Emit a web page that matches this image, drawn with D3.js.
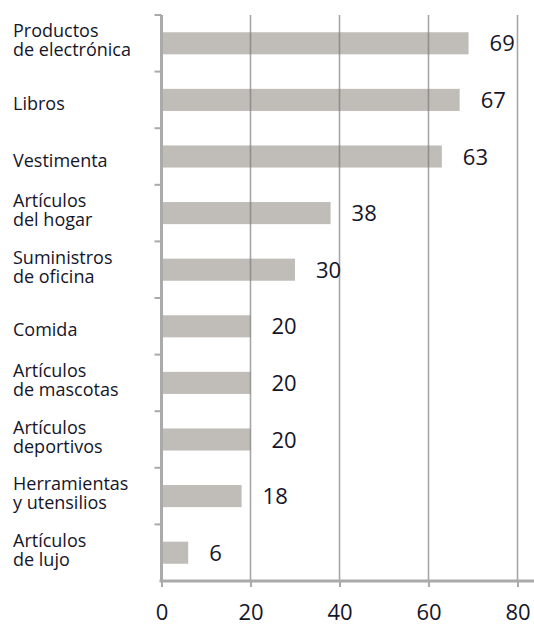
<!DOCTYPE html>
<html>
<head>
<meta charset="utf-8">
<script src="https://cdn.jsdelivr.net/npm/d3@7"></script>
<style>
  body { margin: 0; background: #fff; }
  svg text { font-family: "Open Sans", sans-serif; fill: #15152a; }
</style>
</head>
<body>
<svg width="534" height="635"></svg>
<script>
// categories, each split into its text lines
var categories = [
  ["Productos", "de electrónica"],
  ["Libros"],
  ["Vestimenta"],
  ["Artículos", "del hogar"],
  ["Suministros", "de oficina"],
  ["Comida"],
  ["Artículos", "de mascotas"],
  ["Artículos", "deportivos"],
  ["Herramientas", "y utensilios"],
  ["Artículos", "de lujo"]
];
var values = [69, 67, 63, 38, 30, 20, 20, 20, 18, 6];
var xTicks = [0, 20, 40, 60, 80];

var margin = { top: 15, left: 161.5, right: 16.5, bottom: 54 },
  width = 534 - margin.left - margin.right,
  height = 635 - margin.top - margin.bottom;

var svg = d3.select("svg");
var g = svg.append("g")
  .attr("transform", "translate(" + margin.left + "," + margin.top + ")");

var keys = categories.map(function(d) { return d.join(" "); });

var x = d3.scaleLinear().domain([0, 80]).range([0, width]);
var y = d3.scaleBand().domain(keys).range([0, height])
  .paddingInner(0.61).paddingOuter(0.305);

// bars
g.selectAll(".bar")
  .data(values)
  .enter().append("rect")
  .attr("class", "bar")
  .attr("x", 0)
  .attr("y", function(d, i) { return y(keys[i]); })
  .attr("width", function(d) { return x(d); })
  .attr("height", y.bandwidth())
  .style("fill", "#c0bcb7");

// vertical grid lines, drawn over the bars
g.selectAll(".grid")
  .data(xTicks.slice(1))
  .enter().append("line")
  .attr("class", "grid")
  .attr("x1", function(d) { return x(d); })
  .attr("x2", function(d) { return x(d); })
  .attr("y1", 0)
  .attr("y2", height)
  .style("stroke", "#777")
  .style("stroke-opacity", 0.65)
  .style("stroke-width", 1.6);

// left axis with ticks between categories
var step = y.step();
g.append("line")
  .attr("x1", 0).attr("x2", 0)
  .attr("y1", 0).attr("y2", height)
  .style("stroke", "#aaa").style("stroke-width", 3);
g.selectAll(".ytick")
  .data(d3.range(keys.length))
  .enter().append("line")
  .attr("class", "ytick")
  .attr("x1", -7).attr("x2", 0)
  .attr("y1", function(i) { return i * step; })
  .attr("y2", function(i) { return i * step; })
  .style("stroke", "#aaa").style("stroke-width", 2);

// bottom axis
var xAxis = d3.axisBottom(x).tickValues(xTicks).tickSize(6).tickPadding(17);
var ax = g.append("g")
  .attr("transform", "translate(0," + height + ")")
  .call(xAxis);
ax.select(".domain").remove();
ax.selectAll(".tick line").style("stroke", "#aaa").style("stroke-width", 2);
ax.selectAll(".tick text")
  .style("font-size", "22px")
  .style("font-family", "'Open Sans', sans-serif")
  .attr("fill", "#15152a");
g.append("line")
  .attr("x1", -2).attr("x2", 534 - margin.left)
  .attr("y1", height).attr("y2", height)
  .style("stroke", "#aaa").style("stroke-width", 3);

// value labels
g.selectAll(".value")
  .data(values)
  .enter().append("text")
  .attr("class", "value")
  .attr("x", function(d) { return x(d) + 21; })
  .attr("y", function(d, i) { return y(keys[i]) + y.bandwidth() / 2 + 8; })
  .style("font-size", "22px")
  .text(function(d) { return d; });

// category labels
var labels = svg.selectAll(".cat")
  .data(categories)
  .enter().append("text")
  .attr("class", "cat")
  .attr("x", 13)
  .attr("y", function(d, i) {
    var c = margin.top + y(keys[i]) + y.bandwidth() / 2;
    return d.length === 1 ? c + 10 : c - 6;
  })
  .style("font-size", "18px")
  .style("font-weight", 500);
labels.selectAll("tspan")
  .data(function(d) { return d; })
  .enter().append("tspan")
  .attr("x", 13)
  .attr("dy", function(d, i) { return i === 0 ? 0 : 19; })
  .text(function(d) { return d; });
</script>
</body>
</html>
